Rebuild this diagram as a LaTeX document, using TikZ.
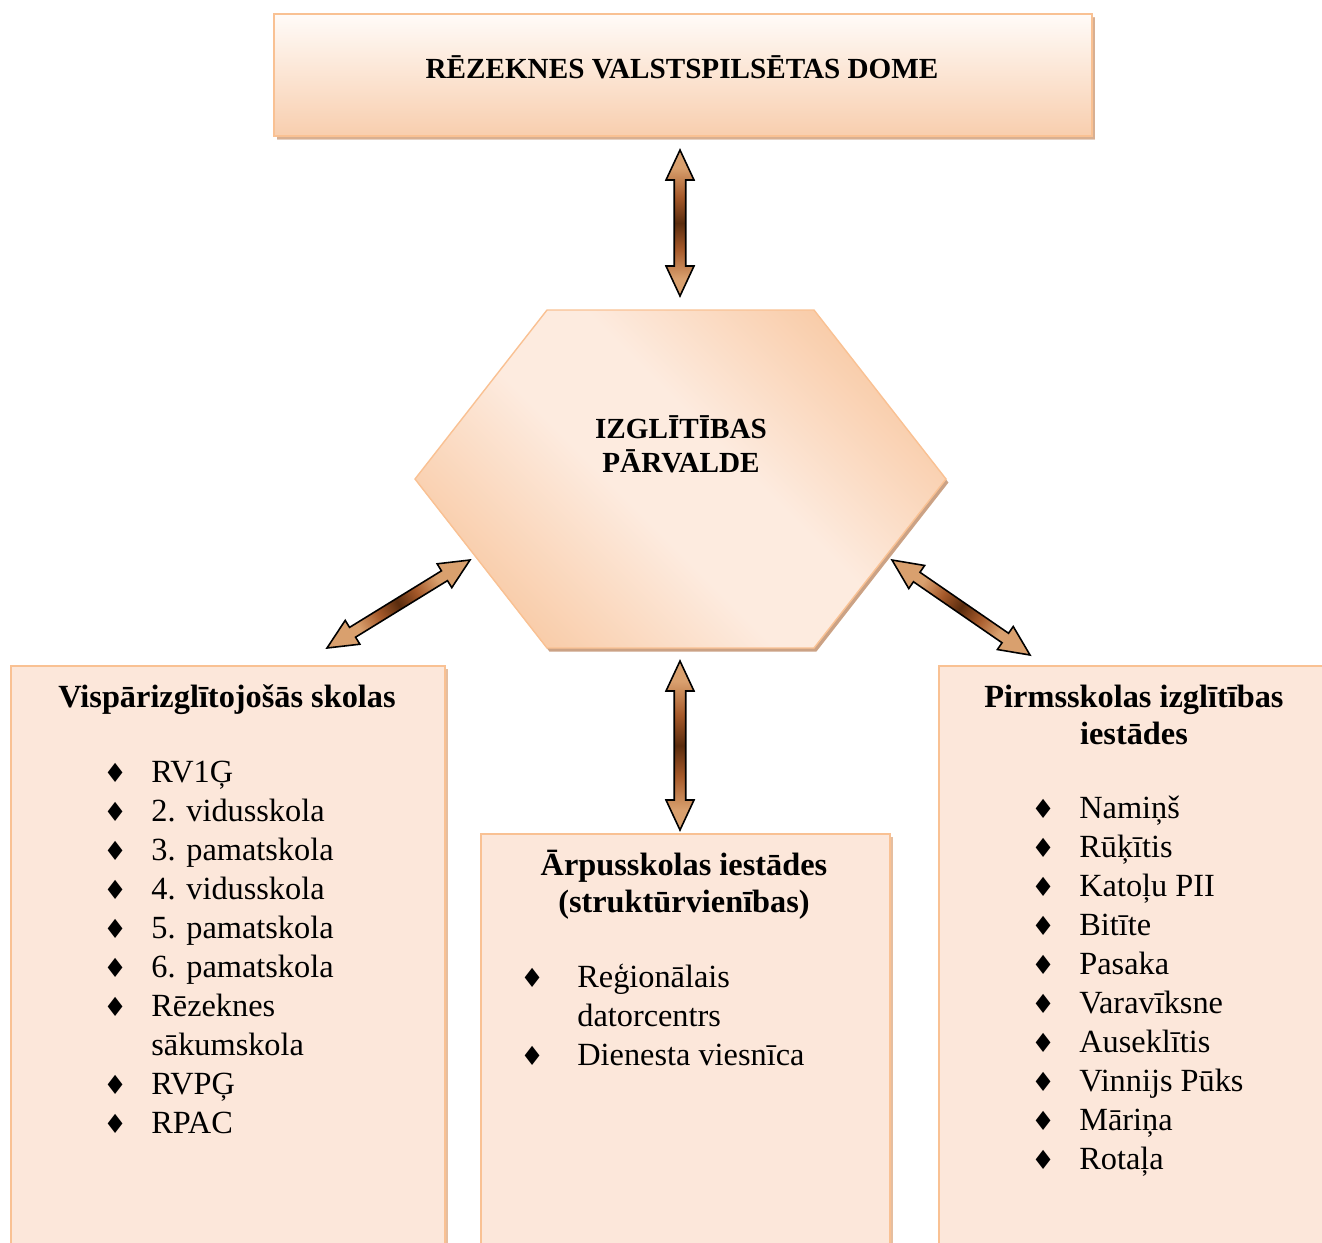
\documentclass[tikz,border=0pt]{standalone}
\usepackage{fontspec}
\setmainfont{Liberation Serif}
\newfontfamily\symfont{DejaVu Sans}
\usetikzlibrary{calc,shadows}

\definecolor{peachline}{HTML}{F9C193}
\definecolor{peachfill}{HTML}{FCE7DA}
\definecolor{peachdark}{HTML}{F8C7A0}
\definecolor{peachlight}{HTML}{FDEBDF}
\definecolor{domelight}{HTML}{FFFBF8}
\definecolor{domedark}{HTML}{F8CEAE}
\definecolor{domeshadow}{HTML}{CBA285}
\definecolor{boxshadow}{HTML}{E6BE9F}
\definecolor{arrowtan}{HTML}{D9A06E}
\definecolor{arrowmid}{HTML}{A5592A}
\definecolor{arrowdark}{HTML}{5A2C0E}

\pgfdeclareverticalshading{brownbar}{100bp}{color(0bp)=(arrowtan); color(31bp)=(arrowtan);
  color(41bp)=(arrowmid); color(50bp)=(arrowdark); color(59bp)=(arrowmid);
  color(69bp)=(arrowtan); color(100bp)=(arrowtan)}
\pgfdeclareverticalshading{hexglow}{100bp}{color(0bp)=(peachdark); color(22bp)=(peachdark);
  color(44bp)=(peachlight); color(56bp)=(peachlight); color(78bp)=(peachdark);
  color(100bp)=(peachdark)}

\newcommand{\itm}{{\symfont\fontsize{15}{15}\selectfont ♦}}

% fat double arrow between two tips, #3 = shading angle
\newcommand{\fatarrow}[3]{%
  \shade[fatarrow, shading angle=#3] let \p1=(#1), \p2=(#2), \n1={atan2(\y2-\y1,\x2-\x1)} in
    (\p1) -- ($(\p1)+(\n1:0.6cm)+({\n1+90}:0.28cm)$) -- ($(\p1)+(\n1:0.6cm)+({\n1+90}:0.115cm)$)
    -- ($(\p2)+({\n1+180}:0.6cm)+({\n1+90}:0.115cm)$) -- ($(\p2)+({\n1+180}:0.6cm)+({\n1+90}:0.28cm)$)
    -- (\p2) -- ($(\p2)+({\n1+180}:0.6cm)+({\n1-90}:0.28cm)$) -- ($(\p2)+({\n1+180}:0.6cm)+({\n1-90}:0.115cm)$)
    -- ($(\p1)+(\n1:0.6cm)+({\n1-90}:0.115cm)$) -- ($(\p1)+(\n1:0.6cm)+({\n1-90}:0.28cm)$) -- cycle;}

\begin{document}
\begin{tikzpicture}[x=0.02cm,y=-0.02cm,font=\fontsize{18.4}{22.2}\selectfont]
\tikzset{box/.style = {draw=peachline, line width=1.2pt, fill=peachfill,
                       anchor=north west, inner sep=0pt,
                       drop shadow={shadow xshift=1.6pt, shadow yshift=-1.6pt,
                                    fill=boxshadow, opacity=1}},
         head/.style = {font=\fontsize{18.4}{21}\selectfont\bfseries,
                        align=center, inner sep=0pt, anchor=base},
         caps/.style = {font=\fontsize{16.6}{19.3}\selectfont\bfseries,
                        align=center, inner sep=0pt, anchor=base},
         list/.style = {anchor=base west, inner sep=0pt},
         fatarrow/.style = {draw=black, line width=0.9pt, shading=brownbar}}
\useasboundingbox (0,0) rectangle (1322,1242);

% top
\node[box, top color=domelight, bottom color=domedark,
      drop shadow={shadow xshift=1.6pt, shadow yshift=-2.4pt, fill=domeshadow},
      minimum width=16.36cm, minimum height=2.44cm] (dome) at (273,13) {};
\node[caps] (domeText) at (682,78) {RĒZEKNES VALSTSPILSĒTAS DOME};

% hexagon
\shade[draw=peachline, line width=0.8pt, shading=hexglow, shading angle=-45,
       drop shadow={shadow xshift=1.4pt, shadow yshift=-2pt, fill=domeshadow, opacity=1}]
  (547,310) -- (814,310) -- (946,479) -- (814,648) -- (547,648) -- (415,479) -- cycle;
\node[caps] (hex) at (681,472) {IZGLĪTĪBAS\\PĀRVALDE};

% lower boxes
\node[box, minimum width=8.68cm, minimum height=12cm] (schools) at (10,665) {};
\node[box, minimum width=8.18cm, minimum height=9cm] (outside) at (480,833) {};
\node[box, minimum width=8cm, minimum height=12cm] (preschool) at (938,665) {};

\node[head] (schoolsHead) at (227,707) {Vispārizglītojošās skolas};
\node[list] (schoolsList) at (103,782) {\begin{tabular}[t]{@{}p{0.96cm}@{}l@{}}
  \itm & RV1Ģ\\ \itm & 2. vidusskola\\ \itm & 3. pamatskola\\ \itm & 4. vidusskola\\
  \itm & 5. pamatskola\\ \itm & 6. pamatskola\\ \itm & Rēzeknes\\ & sākumskola\\
  \itm & RVPĢ\\ \itm & RPAC\end{tabular}};

\node[head] (outsideHead) at (684,912) {Ārpusskolas iestādes\\(struktūrvienības)};
\node[list] (outsideList) at (520,987) {\begin{tabular}[t]{@{}p{1.14cm}@{}l@{}}
  \itm & Reģionālais\\ & datorcentrs\\ \itm & Dienesta viesnīca\end{tabular}};

\node[head] (preschoolHead) at (1134,744) {Pirmsskolas izglītības\\iestādes};
\node[list] (preschoolList) at (1031,818) {\begin{tabular}[t]{@{}p{0.96cm}@{}l@{}}
  \itm & Namiņš\\ \itm & Rūķītis\\ \itm & Katoļu PII\\ \itm & Bitīte\\ \itm & Pasaka\\
  \itm & Varavīksne\\ \itm & Auseklītis\\ \itm & Vinnijs Pūks\\ \itm & Māriņa\\
  \itm & Rotaļa\end{tabular}};

% arrows
\coordinate (a1) at (680,150);  \coordinate (a2) at (680,296);
\coordinate (b1) at (470,560);  \coordinate (b2) at (327,648);
\coordinate (c1) at (892,560);  \coordinate (c2) at (1030,655);
\coordinate (d1) at (680,661);  \coordinate (d2) at (680,830);
\fatarrow{a1}{a2}{0}
\fatarrow{b1}{b2}{-58}
\fatarrow{c1}{c2}{55}
\fatarrow{d1}{d2}{0}
\end{tikzpicture}
\end{document}
